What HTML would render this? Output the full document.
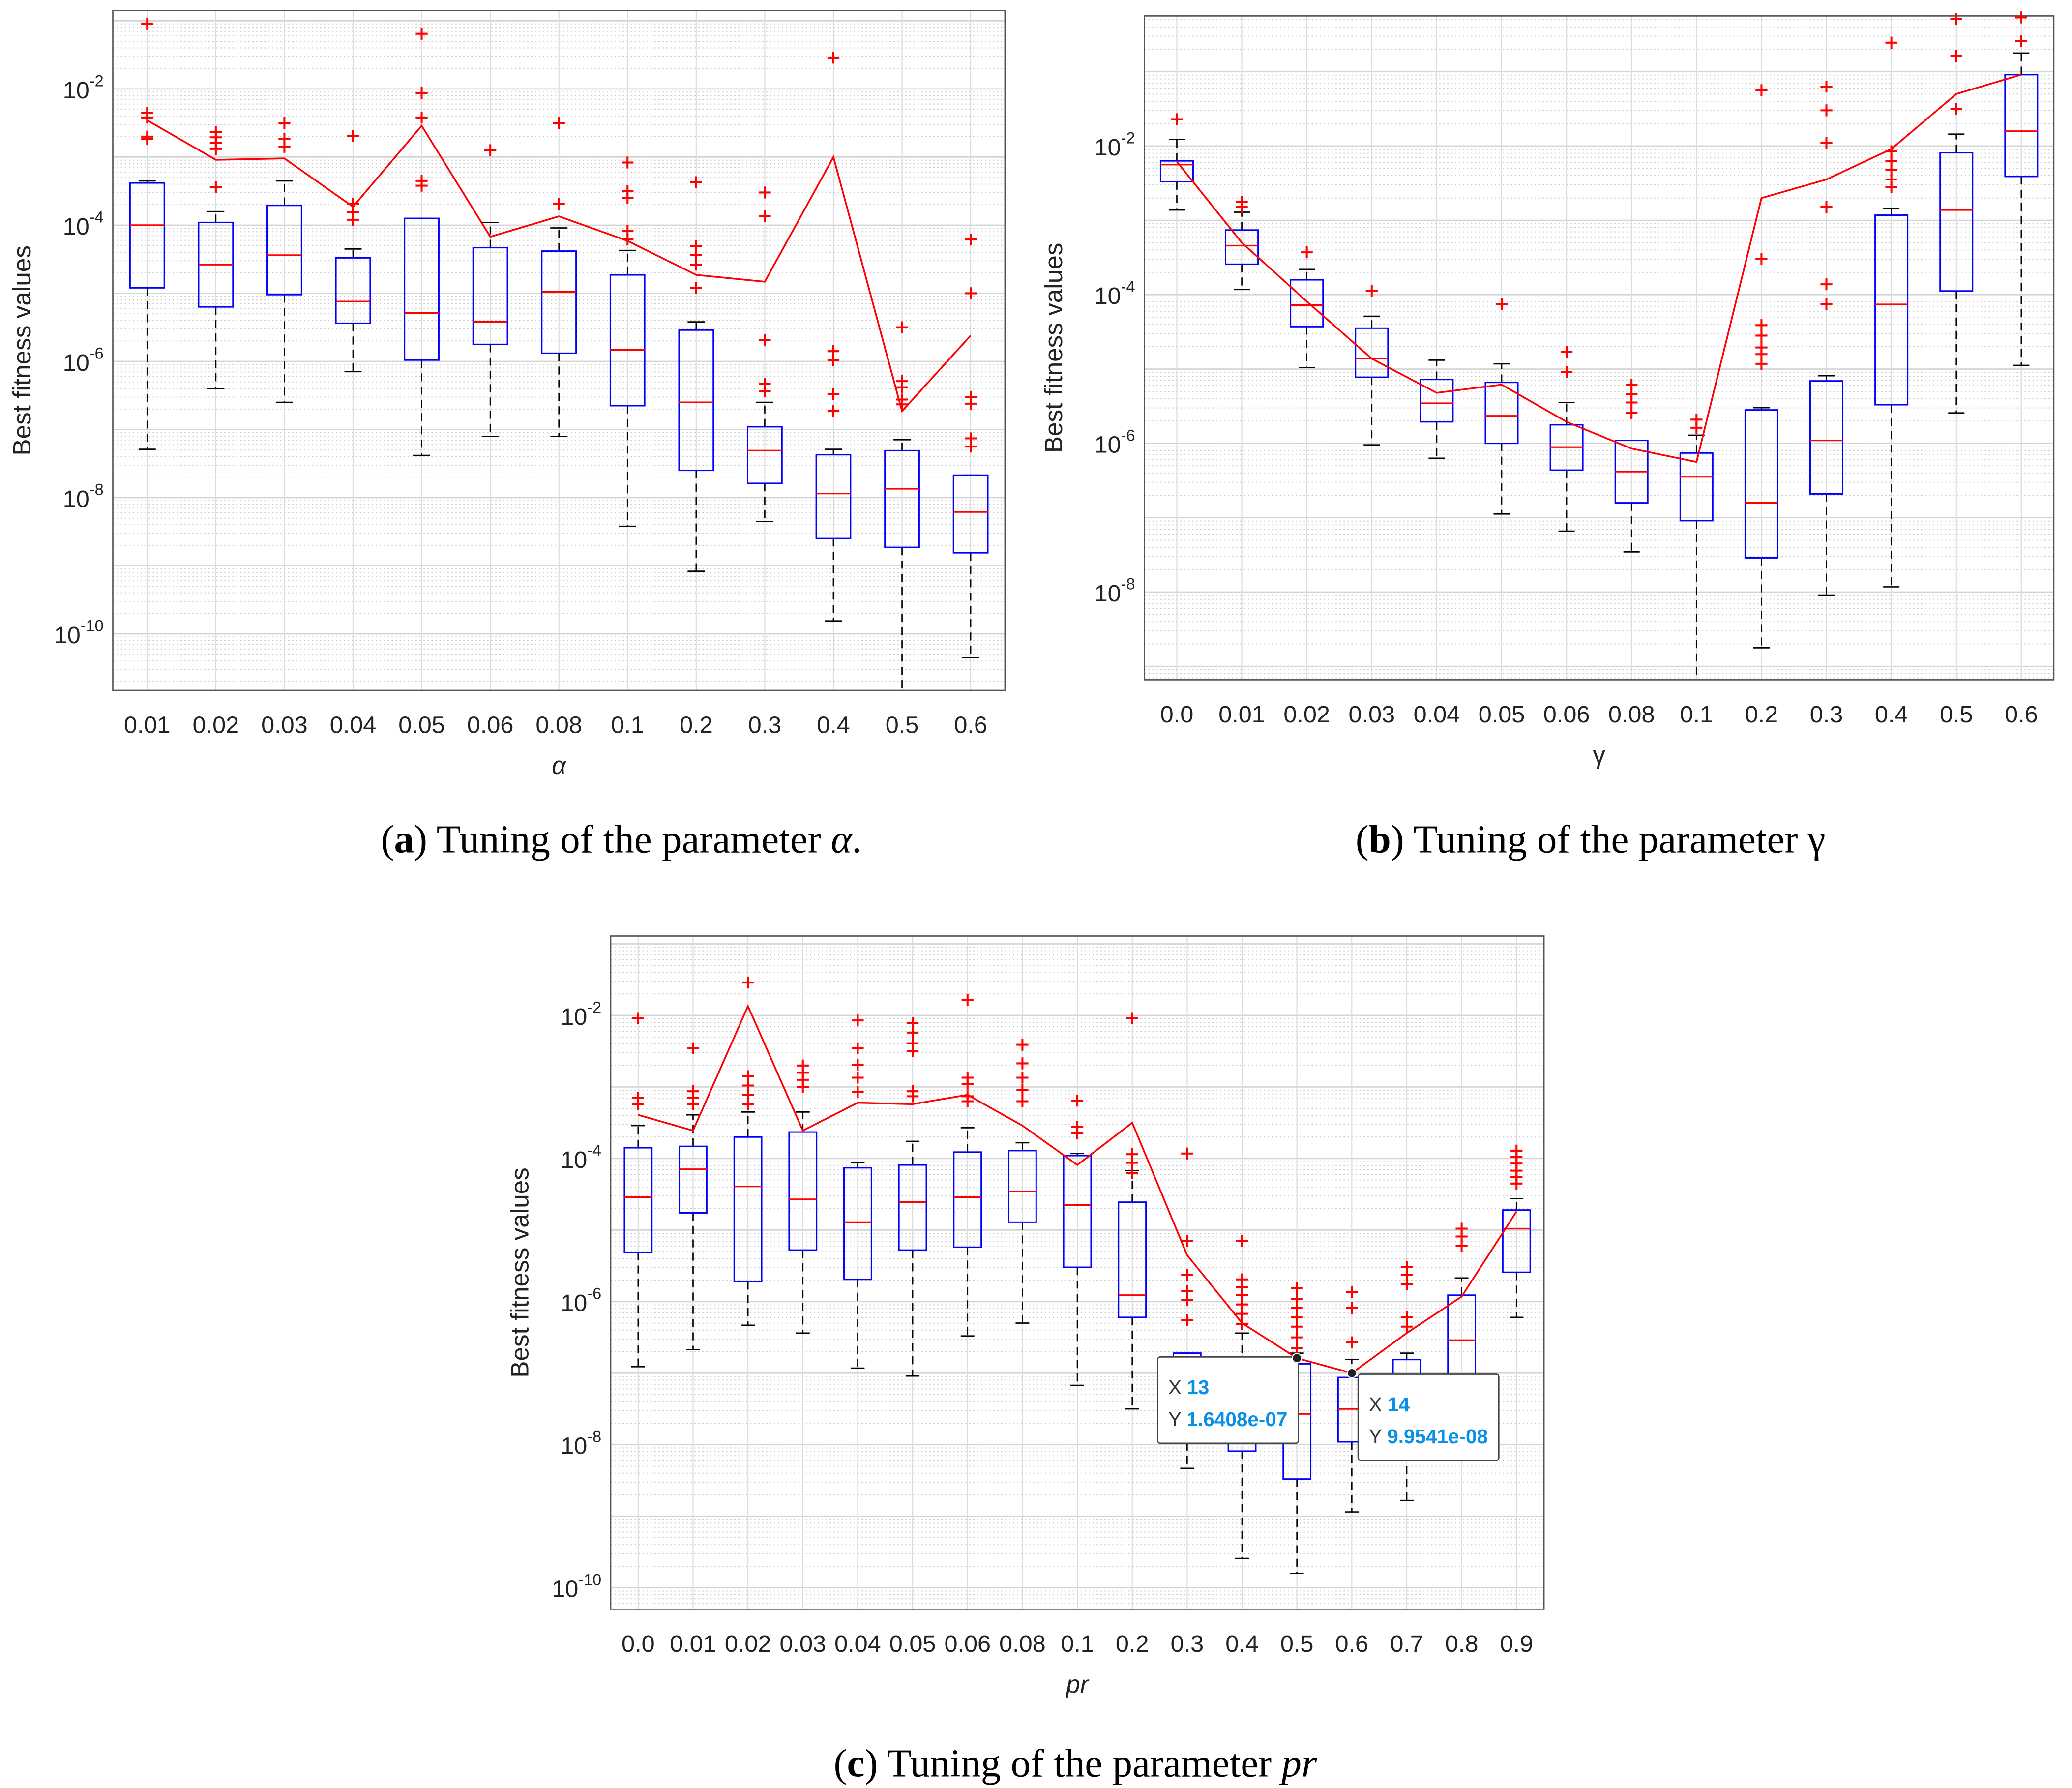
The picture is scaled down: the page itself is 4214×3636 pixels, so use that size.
<!DOCTYPE html>
<html><head><meta charset="utf-8"><style>
html,body{margin:0;padding:0;background:#fff;}
svg{display:block;}
text{font-family:"Liberation Sans",Arial,sans-serif;}
.cap{font-family:"Liberation Serif",serif;font-size:30px;}
</style></head><body>
<svg id="fig" xmlns="http://www.w3.org/2000/svg" width="4214" height="3636" viewBox="0 0 1560.74 1346.67">
<rect x="0" y="0" width="1560.74" height="1346.67" fill="#fff"/>
<g id="layer"></g>
<text class="cap" x="468" y="642" text-anchor="middle">(<tspan font-weight="bold">a</tspan>) Tuning of the parameter <tspan font-style="italic">α</tspan>.</text>
<text class="cap" x="1198" y="642" text-anchor="middle">(<tspan font-weight="bold">b</tspan>) Tuning of the parameter γ</text>
<text class="cap" x="810" y="1338" text-anchor="middle">(<tspan font-weight="bold">c</tspan>) Tuning of the parameter <tspan font-style="italic">pr</tspan></text>
</svg>
<script>
// ---------- Panel A data (log10 values) ----------
const catsA = ["0.01","0.02","0.03","0.04","0.05","0.06","0.08","0.1","0.2","0.3","0.4","0.5","0.6"];
const q3A  = [-3.38,-3.96,-3.71,-4.48,-3.9,-4.33,-4.38,-4.73,-5.54,-6.96,-7.37,-7.31,-7.67];
const medA = [-4.0,-4.58,-4.44,-5.12,-5.29,-5.42,-4.98,-5.83,-6.6,-7.31,-7.94,-7.87,-8.21];
const q1A  = [-4.92,-5.2,-5.02,-5.44,-5.98,-5.75,-5.88,-6.65,-7.6,-7.79,-8.6,-8.73,-8.81];
const whiA = [-3.35,-3.8,-3.35,-4.35,-3.9,-3.96,-4.04,-4.37,-5.42,-6.6,-7.29,-7.15,-7.67];
const wloA = [-7.29,-6.4,-6.6,-6.15,-7.38,-7.1,-7.1,-8.42,-9.08,-8.35,-9.81,-10.85,-10.35];
const outA = [[-1.04,-2.35,-2.42,-2.7,-2.73],[-2.63,-2.71,-2.79,-2.88,-3.44],[-2.5,-2.73,-2.85],[-2.69,-3.69,-3.81,-3.92],[-1.19,-2.06,-2.42,-3.35,-3.42],[-2.9],[-2.5,-3.69],[-3.08,-3.5,-3.6,-4.08,-4.21],[-3.37,-4.31,-4.44,-4.58,-4.92],[-3.52,-3.87,-5.69,-6.33,-6.44],[-1.54,-5.85,-5.98,-6.48,-6.73],[-5.5,-6.29,-6.38,-6.56,-6.63],[-4.21,-5.0,-6.52,-6.62,-7.13,-7.25]];
const meanA = [-2.46,-3.04,-3.02,-3.73,-2.54,-4.17,-3.87,-4.23,-4.73,-4.83,-3.0,-6.73,-5.62];
const ticksA = [-2,-4,-6,-8,-10];
// ---------- Panel B data ----------
const catsB = ["0.0","0.01","0.02","0.03","0.04","0.05","0.06","0.08","0.1","0.2","0.3","0.4","0.5","0.6"];
const q3B  = [-2.2,-3.13,-3.8,-4.45,-5.14,-5.18,-5.75,-5.96,-6.13,-5.55,-5.16,-2.93,-2.09,-1.04];
const medB = [-2.25,-3.34,-4.14,-4.86,-5.46,-5.63,-6.05,-6.38,-6.45,-6.8,-5.96,-4.13,-2.86,-1.8];
const q1B  = [-2.48,-3.59,-4.43,-5.11,-5.71,-6.0,-6.36,-6.8,-7.04,-7.54,-6.68,-5.48,-3.95,-2.41];
const whiB = [-1.91,-2.89,-3.66,-4.29,-4.88,-4.93,-5.45,-5.96,-5.89,-5.52,-5.09,-2.84,-1.84,-0.75];
const wloB = [-2.86,-3.93,-4.98,-6.02,-6.2,-6.95,-7.18,-7.46,-9.18,-8.75,-8.04,-7.93,-5.59,-4.95];
const outB = [[-1.64],[-2.75,-2.82],[-3.43],[-3.95],[],[-4.13],[-4.77,-5.04],[-5.21,-5.34,-5.45,-5.59],[-5.68,-5.79],[-1.25,-3.52,-4.41,-4.55,-4.71,-4.8,-4.93],[-1.2,-1.52,-1.96,-2.82,-3.86,-4.13],[-0.61,-2.07,-2.2,-2.32,-2.45,-2.55],[-0.29,-0.79,-1.5],[-0.27,-0.59]];
const meanB = [-2.21,-3.3,-4.09,-4.86,-5.32,-5.21,-5.71,-6.07,-6.25,-2.7,-2.45,-2.04,-1.3,-1.04];
const ticksB = [-2,-4,-6,-8];
// ---------- Panel C data ----------
const catsC = ["0.0","0.01","0.02","0.03","0.04","0.05","0.06","0.08","0.1","0.2","0.3","0.4","0.5","0.6","0.7","0.8","0.9"];
const q3C  = [-3.85,-3.83,-3.7,-3.63,-4.13,-4.09,-3.91,-3.89,-3.96,-4.61,-6.72,-7.09,-6.87,-7.06,-6.81,-5.91,-4.72];
const medC = [-4.54,-4.15,-4.39,-4.57,-4.89,-4.61,-4.54,-4.46,-4.65,-5.91,-7.2,-7.46,-7.57,-7.5,-7.3,-6.54,-4.98];
const q1C  = [-5.31,-4.76,-5.72,-5.28,-5.69,-5.28,-5.24,-4.89,-5.52,-6.22,-7.6,-8.09,-8.48,-7.96,-7.74,-7.43,-5.59];
const whiC = [-3.54,-3.39,-3.35,-3.35,-4.06,-3.76,-3.57,-3.78,-3.93,-4.17,-6.72,-6.44,-6.72,-6.81,-6.72,-5.67,-4.56];
const wloC = [-6.91,-6.67,-6.33,-6.44,-6.93,-7.04,-6.48,-6.3,-7.17,-7.5,-8.33,-9.59,-9.8,-8.94,-8.78,-8.2,-6.22];
const outC = [[-2.04,-3.15,-3.24],[-2.46,-3.06,-3.15,-3.24],[-1.54,-2.85,-2.98,-3.11,-3.24],[-2.7,-2.8,-2.9,-3.0],[-2.07,-2.46,-2.69,-2.87,-3.07],[-2.11,-2.24,-2.39,-2.5,-3.06,-3.13],[-1.78,-2.87,-2.96,-3.13,-3.2],[-2.41,-2.67,-2.87,-3.04,-3.2],[-3.19,-3.56,-3.65],[-2.04,-3.94,-4.06,-4.2],[-3.93,-5.15,-5.63,-5.85,-5.98,-6.26],[-5.15,-5.69,-5.8,-5.91,-6.04,-6.17,-6.31],[-5.81,-5.96,-6.09,-6.22,-6.35,-6.5,-6.65],[-5.87,-6.09,-6.57],[-5.52,-5.63,-5.76,-6.22,-6.35],[-4.98,-5.09,-5.22],[-3.89,-3.98,-4.07,-4.17,-4.26,-4.35]];
const meanC = [-3.39,-3.61,-1.87,-3.61,-3.22,-3.24,-3.11,-3.54,-4.09,-3.5,-5.35,-6.3,-6.79,-7.0,-6.44,-5.93,-4.74];
const ticksC = [-2,-4,-6,-8,-10];

const NS="http://www.w3.org/2000/svg";
const layer=document.getElementById('layer');
function mk(tag,attrs,parent){const e=document.createElementNS(NS,tag);for(const k in attrs)e.setAttribute(k,attrs[k]);(parent||layer).appendChild(e);return e;}

function panel(id,box,ylim,cats,q3,med,q1,whi,wlo,outs,means,ticks,xlabel,xlabelItalic){
  const [L,T,R,B]=box;
  const g=mk('g',{});
  
  
  const n=cats.length;
  const xs=i=>L+(i+0.5)*(R-L)/n;
  const ys=v=>T+(ylim[1]-v)/(ylim[1]-ylim[0])*(B-T);
  const bw=(R-L)/n*0.5;
  for(let d=Math.floor(ylim[0]);d<=Math.ceil(ylim[1]);d++){
    for(let m=2;m<=9;m++){const v=d+Math.log10(m);if(v>ylim[0]&&v<ylim[1]){const gl=mk('line',{x1:L,x2:R,y1:ys(v),y2:ys(v),stroke:'#c8c8c8','stroke-width':0.7,'stroke-dasharray':'1,2'},g);}}
    if(d>ylim[0]&&d<ylim[1]){const gl=mk('line',{x1:L,x2:R,y1:ys(d),y2:ys(d),stroke:'#d4d4d4','stroke-width':1},g);}
  }
  for(let i=0;i<n;i++){const gl=mk('line',{x1:xs(i),x2:xs(i),y1:T,y2:B,stroke:'#dcdcdc','stroke-width':0.8},g);}
  const frame=mk('rect',{x:L,y:T,width:R-L,height:B-T,fill:'none',stroke:'#555','stroke-width':1},g);
  
  ticks.forEach(t=>{
    const tx=mk('text',{x:L-7,y:ys(t)+7,'text-anchor':'end','font-size':18,fill:'#222'},g);
    
    tx.appendChild(document.createTextNode('10'));
    const sp=mk('tspan',{dy:-9,'font-size':12},tx);sp.textContent=String(t);
  });
  cats.forEach((c,i)=>{
    const tx=mk('text',{x:xs(i),y:B+32,'text-anchor':'middle','font-size':18,fill:'#222'},g);
    
    tx.textContent=c;
  });
  const yl=mk('text',{x:0,y:0,'font-size':19,fill:'#222','text-anchor':'middle',transform:`translate(${L-62},${(T+B)/2}) rotate(-90)`},g);
  yl.textContent='Best fitness values';
  const xl=mk('text',{x:(L+R)/2,y:B+63,'font-size':19,fill:'#222','text-anchor':'middle','font-style':xlabelItalic?'italic':'normal'},g);
  xl.textContent=xlabel;
  for(let i=0;i<n;i++){
    const x=xs(i);
    const w1=mk('line',{x1:x,x2:x,y1:ys(q3[i]),y2:ys(whi[i]),stroke:'#000','stroke-width':1,'stroke-dasharray':'6,4'},g);
    
    const w2=mk('line',{x1:x,x2:x,y1:ys(q1[i]),y2:Math.min(B,ys(wlo[i])),stroke:'#000','stroke-width':1,'stroke-dasharray':'6,4'},g);
    
    const c1=mk('line',{x1:x-bw/4,x2:x+bw/4,y1:ys(whi[i]),y2:ys(whi[i]),stroke:'#000','stroke-width':1},g);
    
    if(ys(wlo[i])<B){const c2=mk('line',{x1:x-bw/4,x2:x+bw/4,y1:ys(wlo[i]),y2:ys(wlo[i]),stroke:'#000','stroke-width':1},g);
    }
    const bx=mk('rect',{x:x-bw/2,y:ys(q3[i]),width:bw,height:ys(q1[i])-ys(q3[i]),fill:'none',stroke:'#0000ff','stroke-width':1.1},g);
    
    const md=mk('line',{x1:x-bw/2,x2:x+bw/2,y1:ys(med[i]),y2:ys(med[i]),stroke:'#ff0000','stroke-width':1.2},g);
    
    outs[i].forEach(o=>{
      const y=ys(o);
      const p=mk('path',{d:`M${x-4.5},${y}H${x+4.5}M${x},${y-4.5}V${y+4.5}`,stroke:'#ff0000','stroke-width':1.5},g);
      
    });
  }
  const pl=mk('polyline',{points:means.map((m,i)=>xs(i)+','+ys(m)).join(' '),fill:'none',stroke:'#ff0000','stroke-width':1.3},g);
  
  return {xs,ys};
}
panel('a',[85,8,757,520],[-10.83,-0.85],catsA,q3A,medA,q1A,whiA,wloA,outA,meanA,ticksA,'α',true);
panel('b',[862,12,1547,512],[-9.18,-0.25],catsB,q3B,medB,q1B,whiB,wloB,outB,meanB,ticksB,'γ',false);
const pc=panel('c',[460,705,1163,1212],[-10.3,-0.89],catsC,q3C,medC,q1C,whiC,wloC,outC,meanC,ticksC,'pr',true);

const tips=[{i:12,lx:872,ly:1022,xv:'13',yv:'1.6408e-07'},{i:13,lx:1023,ly:1035,xv:'14',yv:'9.9541e-08'}];
tips.forEach(t=>{
  const g=mk('g',{});
  
  
  const dx=pc.xs(t.i), dy=pc.ys(meanC[t.i]);
  mk('rect',{x:t.lx,y:t.ly,width:106,height:65,fill:'#fff',stroke:'#444','stroke-width':1,rx:2},g);
  mk('circle',{cx:dx,cy:dy,r:3.5,fill:'#222',stroke:'#fff','stroke-width':0.8},g);
  const a=mk('text',{x:t.lx+8,y:t.ly+28,'font-size':15,fill:'#333'},g);
  a.textContent='X ';
  const av=mk('tspan',{fill:'#0a8fe6','font-weight':'bold'},a);av.textContent=t.xv;
  const b=mk('text',{x:t.lx+8,y:t.ly+52,'font-size':15,fill:'#333'},g);
  b.textContent='Y ';
  const bv=mk('tspan',{fill:'#0a8fe6','font-weight':'bold'},b);bv.textContent=t.yv;
});
</script>
</body></html>
